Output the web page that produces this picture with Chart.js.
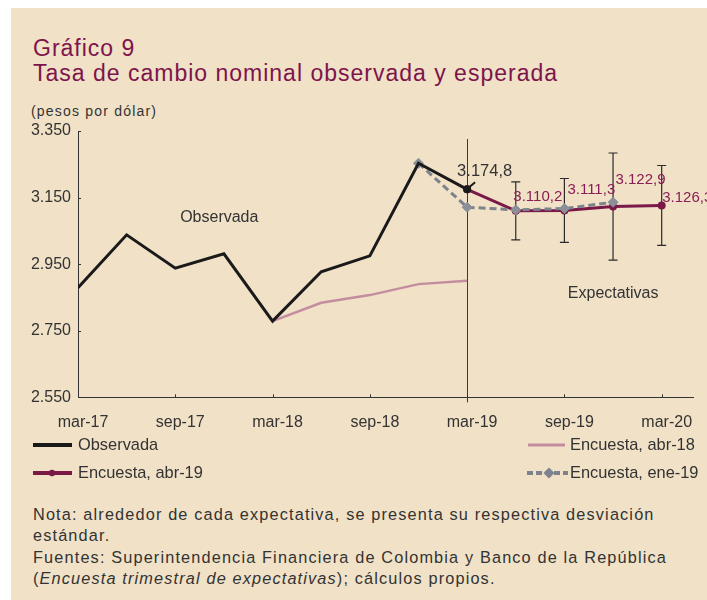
<!DOCTYPE html>
<html><head><meta charset="utf-8">
<script src="https://cdn.jsdelivr.net/npm/chart.js@4.4.1/dist/chart.umd.min.js"></script>
<style>
html,body{margin:0;padding:0;background:#fff;}
#wrap{position:relative;width:707px;height:600px;overflow:hidden;}
#panel{position:absolute;left:11px;top:8px;right:0;bottom:0;background:#F0E1C7;}
canvas{position:absolute;left:0;top:0;}
.t{position:absolute;font-family:"Liberation Sans",Arial,sans-serif;white-space:nowrap;}
#t1,#t2{color:#7D144B;font-size:23px;line-height:23px;letter-spacing:1px;left:33px;}
#t1{top:36.5px;}
#t2{top:62.2px;}
#unit{left:31px;top:104px;font-size:14px;line-height:14px;letter-spacing:1.2px;color:#333;}
#notes{left:33px;top:503.6px;font-size:16.3px;line-height:21.5px;letter-spacing:1.15px;color:#333;}
</style></head>
<body><div id="wrap"><div id="panel"></div>
<div class="t" id="t1">Gráfico 9</div>
<div class="t" id="t2">Tasa de cambio nominal observada y esperada</div>
<div class="t" id="unit">(pesos por dólar)</div>
<div class="t" id="notes">Nota: alrededor de cada expectativa, se presenta su respectiva desviación<br>estándar.<br>Fuentes: Superintendencia Financiera de Colombia y Banco de la República<br>(<i>Encuesta trimestral de expectativas</i>); cálculos propios.</div>
<canvas id="c" width="707" height="600"></canvas>
</div>
<script>
// ---- data ----
const quarters = ["mar-17","jun-17","sep-17","dic-17","mar-18","jun-18","sep-18","dic-18","mar-19","jun-19","sep-19","dic-19","mar-20"];
const tickLabels = ["mar-17","sep-17","mar-18","sep-18","mar-19","sep-19","mar-20"];
const yTicks = [2550, 2750, 2950, 3150, 3350];
const observada     = [2879, 3038, 2938, 2981, 2779, 2927, 2975, 3253, 3174.8, null, null, null, null];
const encuestaAbr18 = [null, null, null, null, 2779, 2834, 2857, 2890, 2900, null, null, null, null];
const encuestaEne19 = [null, null, null, null, null, null, null, 3253, 3121, 3113, 3117, 3136, null];
const encuestaAbr19 = [null, null, null, null, null, null, null, null, 3174.8, 3110.2, 3111.3, 3122.9, 3126.3];
const desvEstandar  = [null, null, null, null, null, null, null, null, null, 87, 96, 161, 120];

// ---- styles / layout ----
const FONT = '"Liberation Sans", Arial, sans-serif';
const MAROON = '#7A1848';
const LABEL_MAROON = '#8A1E55';
const PINK = '#C48D9F';
const GRAY = '#7D828C';
const BLACK = '#1A1A1A';
const TXT = '#333333';
const labelOffsets = {8:[-10,-17.6], 9:[-2.4,-14], 10:[3,-20.5], 11:[2.4,-26.6], 12:[0.5,-7.5]};

const toXY = arr => arr.map((v,i)=> v==null ? null : {x:i, y:v}).filter(Boolean);
const fmtThousands = v => String(v).replace(/\B(?=(\d{3})+(?!\d))/g,'.');
const fmtDec = v => { const [a,b] = v.toFixed(1).split('.'); return fmtThousands(a)+','+b; };
const lastObs = observada.reduce((m,v,i)=> v!=null ? i : m, 0);

const extras = {
  id:'extras',
  beforeDatasetsDraw(chart){
    const {ctx, chartArea:ca, scales:{x,y}} = chart;
    ctx.save();
    // vertical divider at mar-19
    const xd = x.getPixelForValue(8);
    ctx.strokeStyle = '#3a3a3a'; ctx.lineWidth = 1;
    ctx.beginPath(); ctx.moveTo(Math.round(xd)+0.5, ca.top+8); ctx.lineTo(Math.round(xd)+0.5, ca.bottom+5); ctx.stroke();
    // error bars
    ctx.strokeStyle = '#2b2b2b'; ctx.lineWidth = 1.2;
    desvEstandar.forEach((sd,i)=>{
      if (sd==null) return;
      const v = encuestaAbr19[i];
      const px = x.getPixelForValue(i), t = y.getPixelForValue(v+sd), b = y.getPixelForValue(v-sd);
      ctx.beginPath();
      ctx.moveTo(px,t); ctx.lineTo(px,b);
      ctx.moveTo(px-4.5,t); ctx.lineTo(px+4.5,t);
      ctx.moveTo(px-4.5,b); ctx.lineTo(px+4.5,b);
      ctx.stroke();
    });
    // inward ticks
    ctx.strokeStyle = TXT; ctx.lineWidth = 1;
    x.ticks.forEach(tk=>{ const px = Math.round(x.getPixelForValue(tk.value))+0.5; ctx.beginPath(); ctx.moveTo(px, ca.bottom); ctx.lineTo(px, ca.bottom-3); ctx.stroke(); });
    y.ticks.forEach(tk=>{ const py = Math.round(y.getPixelForValue(tk.value))+0.5; ctx.beginPath(); ctx.moveTo(ca.left, py); ctx.lineTo(ca.left+3, py); ctx.stroke(); });
    ctx.restore();
  },
  afterDatasetsDraw(chart){
    const {ctx, scales:{x,y}} = chart;
    ctx.save();
    // arrow to last observed
    const ox = x.getPixelForValue(lastObs), oy = y.getPixelForValue(observada[lastObs]);
    ctx.strokeStyle = BLACK; ctx.lineWidth = 2;
    ctx.beginPath(); ctx.moveTo(ox+8, oy-7); ctx.lineTo(ox+2, oy-2); ctx.stroke();
    ctx.fillStyle = BLACK; ctx.beginPath(); ctx.arc(ox, oy, 4, 0, Math.PI*2); ctx.fill();
    // data labels
    ctx.textAlign = 'left'; ctx.textBaseline = 'middle';
    encuestaAbr19.forEach((v,i)=>{
      if (v==null) return;
      const off = labelOffsets[i]; if (!off) return;
      if (i===lastObs) { ctx.fillStyle = TXT; ctx.font = '16.5px '+FONT; }
      else { ctx.fillStyle = LABEL_MAROON; ctx.font = '15px '+FONT; }
      ctx.fillText(fmtDec(v), x.getPixelForValue(i)+off[0], y.getPixelForValue(v)+off[1]);
    });
    // region annotations
    ctx.font = '16px '+FONT;
    ctx.fillStyle = TXT;
    ctx.fillText('Observada', x.getPixelForValue(2.1), y.getPixelForValue(3090));
    ctx.fillText('Expectativas', x.getPixelForValue(10.07), y.getPixelForValue(2863));
    ctx.restore();
  },
  afterDraw(chart){
    const ctx = chart.ctx; const ds = chart.data.datasets;
    ctx.save();
    const line = (x1,y1,x2,y2,c,w,dash)=>{ ctx.strokeStyle=c; ctx.lineWidth=w; ctx.setLineDash(dash||[]); ctx.beginPath(); ctx.moveTo(x1,y1); ctx.lineTo(x2,y2); ctx.stroke(); ctx.setLineDash([]); };
    ctx.font = '16.4px '+FONT; ctx.textBaseline='middle'; ctx.textAlign='left'; ctx.fillStyle = TXT;
    // Observada
    line(33,445,72,445,BLACK,4);
    ctx.fillText(ds[0].label, 78, 445);
    // Encuesta abr-19
    line(33,473,72,473,MAROON,4);
    ctx.fillStyle = MAROON; ctx.beginPath(); ctx.arc(52,473,3.2,0,Math.PI*2); ctx.fill();
    ctx.fillStyle = TXT; ctx.fillText(ds[2].label, 78, 473);
    // Encuesta abr-18
    line(528,445,565,445,PINK,3);
    ctx.fillText(ds[3].label, 570, 445);
    // Encuesta ene-19
    line(527,473,568,473,GRAY,4,[6,3]);
    ctx.fillStyle = GRAY; ctx.beginPath(); ctx.moveTo(549,467.5); ctx.lineTo(554.5,473); ctx.lineTo(549,478.5); ctx.lineTo(543.5,473); ctx.closePath(); ctx.fill();
    ctx.fillStyle = TXT; ctx.fillText(ds[1].label, 570, 473);
    ctx.restore();
  }
};

new Chart(document.getElementById('c'), {
  type:'line',
  data:{
    datasets:[
      {label:'Observada', data:toXY(observada), borderColor:BLACK, borderWidth:3, pointRadius:0, tension:0},
      {label:'Encuesta, ene-19', data:toXY(encuestaEne19), borderColor:GRAY, borderWidth:3, borderDash:[7,4], pointStyle:'rectRot', pointRadius:5, pointBackgroundColor:'#8A8F98', pointBorderColor:'#8A8F98', pointBorderWidth:1, tension:0},
      {label:'Encuesta, abr-19', data:toXY(encuestaAbr19), borderColor:MAROON, borderWidth:3, pointRadius:2.5, pointBackgroundColor:MAROON, pointBorderColor:MAROON, tension:0},
      {label:'Encuesta, abr-18', data:toXY(encuestaAbr18), borderColor:PINK, borderWidth:2.5, pointRadius:0, tension:0}
    ]
  },
  options:{
    responsive:false, animation:false, events:[],
    layout:{padding:{left:0, top:131, right:13.7, bottom:162.7}},
    plugins:{legend:{display:false}, tooltip:{enabled:false}, title:{display:false}},
    scales:{
      x:{type:'linear', min:0, max:12.65,
        afterBuildTicks:s=>{ s.ticks = tickLabels.map((_,k)=>({value:k*2})); },
        afterFit:s=>{ s.height = 40; },
        grid:{display:true, drawOnChartArea:false, drawTicks:false},
        border:{display:true, color:TXT, width:1},
        ticks:{callback:v=>tickLabels[Math.round(v/2)], padding:16, labelOffset:5, color:TXT, font:{family:FONT, size:16}, maxRotation:0, autoSkip:false}
      },
      y:{type:'linear', min:2550, max:3350,
        afterBuildTicks:s=>{ s.ticks = yTicks.map(v=>({value:v})); },
        afterFit:s=>{ s.width = 78; },
        grid:{display:true, drawOnChartArea:false, drawTicks:false},
        border:{display:true, color:TXT, width:1},
        ticks:{callback:v=>fmtThousands(v), padding:7, color:TXT, font:{family:FONT, size:16}}
      }
    }
  },
  plugins:[extras]
});
</script>
</body></html>
